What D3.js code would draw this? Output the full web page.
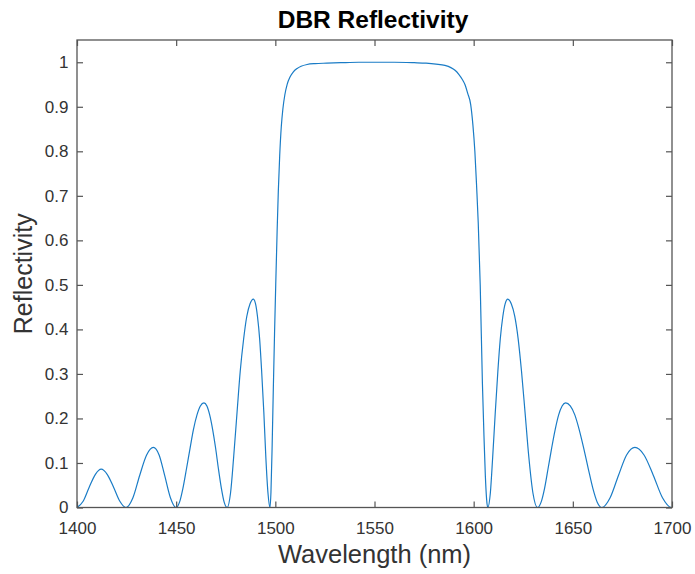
<!DOCTYPE html>
<html>
<head>
<meta charset="utf-8">
<script src="https://cdn.jsdelivr.net/npm/d3@7"></script>
<style>
  body { margin: 0; background: #fff; }
  svg { display: block; }
  text { font-family: "Liberation Sans", Arial, Helvetica, sans-serif; }
</style>
</head>
<body>
<svg id="chart" width="695" height="574"></svg>
<script>
// Reflectivity spectrum of the Bragg mirror, sampled in wavelength (nm)
const wavelengthNm = [
  1400, 1403.1, 1406.1, 1409.2, 1412.2, 1415.3, 1418.5, 1421.6, 1424.7,
  1428.2, 1431.6, 1435.1, 1438.5, 1441.4, 1444.2, 1447.1, 1449.9,
  1451.7, 1453.4, 1455.2, 1457.0, 1458.7, 1460.5, 1462.2, 1464.0,
  1465.5, 1466.9, 1468.4, 1469.9, 1471.3, 1472.8, 1474.2, 1475.7,
  1477.4, 1479.0, 1480.7, 1482.3, 1484.0, 1485.6, 1487.3, 1488.9,
  1490.0, 1491.0, 1492.1, 1493.1, 1494.2, 1495.2, 1496.3, 1497.3,
  1497.8, 1498.4, 1499.0, 1499.6, 1500.2, 1500.9, 1501.5, 1502.2, 1503.0,
  1503.8, 1504.8, 1506.0, 1507.4, 1509.0, 1511.0, 1513.0, 1516.0, 1520.0,
  1526.0, 1533.0, 1542.0, 1560.0, 1570.0, 1576.0, 1581.0, 1585.5, 1588.5,
  1590.6, 1592.5, 1594.2, 1595.6, 1597.0, 1598.5, 1599.6, 1600.6, 1601.5,
  1602.3, 1603.3, 1604.4, 1605.2, 1605.9, 1606.5, 1607.1,
  1608.4, 1609.6, 1610.9, 1612.2, 1613.4, 1614.7, 1615.9, 1617.2,
  1619.0, 1620.7, 1622.4, 1624.1, 1625.9, 1627.8, 1629.9, 1632.2,
  1634.0, 1635.75, 1637.5, 1639.3, 1641.1, 1642.85, 1644.6, 1646.4,
  1648.7, 1651.0, 1653.2, 1655.5, 1657.8, 1660.1, 1662.3, 1664.6,
  1668.8, 1673.0, 1677.1, 1681.3, 1685.9, 1690.6, 1695.2, 1699.8, 1700
];
const reflectivity = [
  0, 0.014, 0.045, 0.074, 0.086, 0.074, 0.045, 0.014, 0,
  0.022, 0.072, 0.118, 0.135, 0.118, 0.072, 0.022, 0,
  0.012, 0.043, 0.087, 0.133, 0.175, 0.208, 0.228, 0.235,
  0.228, 0.208, 0.175, 0.133, 0.087, 0.043, 0.012, 0,
  0.032, 0.114, 0.214, 0.306, 0.378, 0.429, 0.458, 0.468,
  0.458, 0.429, 0.378, 0.306, 0.214, 0.114, 0.032, 0,
  0.035, 0.14, 0.27, 0.39, 0.50, 0.62, 0.71, 0.79, 0.855,
  0.895, 0.927, 0.951, 0.967, 0.978, 0.986, 0.991, 0.995, 0.997,
  0.998, 0.999, 1.0, 1.0, 0.999, 0.998, 0.996, 0.993, 0.988,
  0.982, 0.973, 0.962, 0.950, 0.930, 0.905, 0.86, 0.80, 0.72,
  0.64, 0.50, 0.28, 0.16, 0.07, 0.02, 0,
  0.032, 0.114, 0.214, 0.306, 0.378, 0.429, 0.458, 0.468,
  0.457, 0.43, 0.38, 0.307, 0.214, 0.114, 0.032, 0,
  0.012, 0.043, 0.087, 0.133, 0.175, 0.208, 0.228, 0.235,
  0.228, 0.208, 0.175, 0.133, 0.087, 0.043, 0.012, 0,
  0.022, 0.072, 0.118, 0.135, 0.118, 0.072, 0.022, 0, 0
];
const xTickValues = [1400, 1450, 1500, 1550, 1600, 1650, 1700];
const yTickValues = [0, 0.1, 0.2, 0.3, 0.4, 0.5, 0.6, 0.7, 0.8, 0.9, 1];

const titleText = "DBR Reflectivity";
const xLabelText = "Wavelength (nm)";
const yLabelText = "Reflectivity";

const plot = { left: 77, right: 672, top: 40, bottom: 507.5 };
const axisColor = "#333333";
const boxColor = "#555555";
const lineColor = "#1a7cc6";
const tickLen = 6;

const svg = d3.select("#chart");

const x = d3.scaleLinear().domain([1400, 1700]).range([plot.left, plot.right]);
const y = d3.scaleLinear().domain([0, 1.05]).range([plot.bottom, plot.top]);

const points = wavelengthNm.map((w, i) => ({ w, r: reflectivity[i] }));

// clip the curve to the axes box
svg.append("defs").append("clipPath").attr("id", "plotClip")
  .append("rect")
  .attr("x", plot.left).attr("y", plot.top)
  .attr("width", plot.right - plot.left)
  .attr("height", plot.bottom - plot.top);

// reflectivity curve
const line = d3.line()
  .x(d => x(d.w))
  .y(d => y(d.r))
  .curve(d3.curveMonotoneX);

svg.append("path")
  .datum(points)
  .attr("clip-path", "url(#plotClip)")
  .attr("fill", "none")
  .attr("stroke", lineColor)
  .attr("stroke-width", 1.2)
  .attr("stroke-linejoin", "round")
  .attr("d", line);

function styleAxis(g) {
  g.select(".domain").remove();
  g.selectAll(".tick line").attr("stroke", boxColor).attr("stroke-width", 1.2);
  g.selectAll(".tick text")
    .attr("fill", axisColor)
    .style("font-size", "17px");
}

// bottom axis with inward ticks
svg.append("g")
  .attr("transform", `translate(0,${plot.bottom})`)
  .call(d3.axisBottom(x).tickValues(xTickValues).tickFormat(d3.format("d"))
    .tickSizeInner(-tickLen).tickSizeOuter(0).tickPadding(14.5))
  .call(styleAxis);

// top axis ticks only
svg.append("g")
  .attr("transform", `translate(0,${plot.top})`)
  .call(d3.axisTop(x).tickValues(xTickValues).tickFormat("")
    .tickSizeInner(-tickLen).tickSizeOuter(0))
  .call(styleAxis);

// left axis
svg.append("g")
  .attr("transform", `translate(${plot.left},0)`)
  .call(d3.axisLeft(y).tickValues(yTickValues).tickFormat(d => d3.format("")(+d.toFixed(1)))
    .tickSizeInner(-tickLen).tickSizeOuter(0).tickPadding(8.5))
  .call(styleAxis);

// right axis ticks only
svg.append("g")
  .attr("transform", `translate(${plot.right},0)`)
  .call(d3.axisRight(y).tickValues(yTickValues).tickFormat("")
    .tickSizeInner(-tickLen).tickSizeOuter(0))
  .call(styleAxis);

// axes box
svg.append("rect")
  .attr("x", plot.left).attr("y", plot.top)
  .attr("width", plot.right - plot.left)
  .attr("height", plot.bottom - plot.top)
  .attr("fill", "none")
  .attr("stroke", boxColor)
  .attr("stroke-width", 1.3);

// title
svg.append("text")
  .attr("x", (plot.left + plot.right) / 2 - 1.5)
  .attr("y", 28)
  .attr("text-anchor", "middle")
  .attr("fill", "#000")
  .style("font-size", "24.5px")
  .style("font-weight", "bold")
  .text(titleText);

// x label
svg.append("text")
  .attr("x", (plot.left + plot.right) / 2)
  .attr("y", 563)
  .attr("text-anchor", "middle")
  .attr("fill", axisColor)
  .style("font-size", "25.5px")
  .text(xLabelText);

// y label
svg.append("text")
  .attr("transform", `translate(31.5,${(plot.top + plot.bottom) / 2}) rotate(-90)`)
  .attr("text-anchor", "middle")
  .attr("fill", axisColor)
  .style("font-size", "25px")
  .text(yLabelText);
</script>
</body>
</html>
